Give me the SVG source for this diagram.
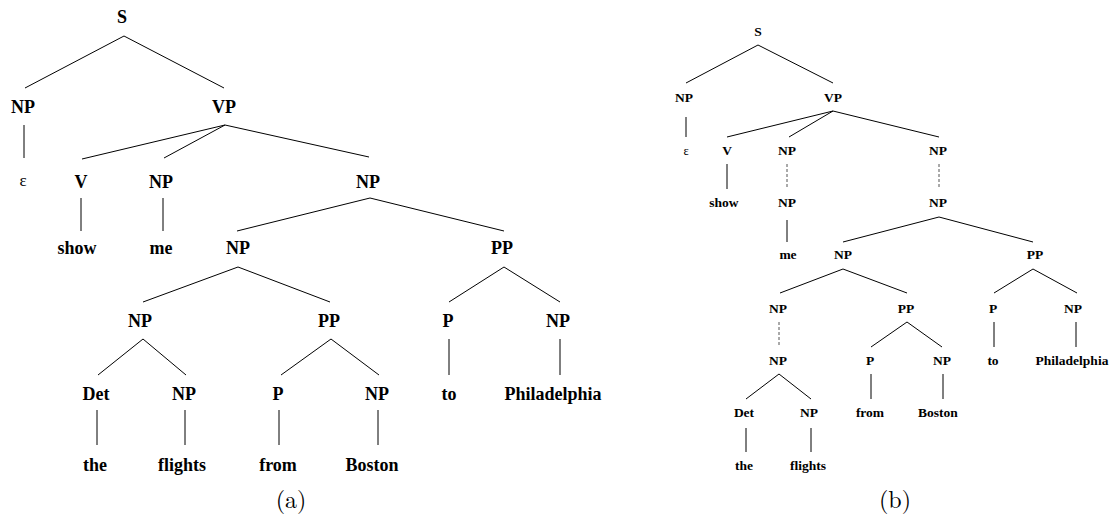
<svg xmlns="http://www.w3.org/2000/svg" width="1117" height="522" viewBox="0 0 1117 522">
<style>
.a{font-family:"Liberation Serif","Times New Roman",serif;font-weight:bold;font-size:18px;text-anchor:middle;fill:#000}
.b{font-family:"Liberation Serif","Times New Roman",serif;font-weight:bold;font-size:13.5px;text-anchor:middle;fill:#000}
.ea{font-family:"Liberation Serif","Times New Roman",serif;font-size:17px;text-anchor:middle;fill:#000}
.eb{font-family:"Liberation Serif","Times New Roman",serif;font-size:12.5px;text-anchor:middle;fill:#000}
.cap{font-family:"Latin Modern Roman","Liberation Serif",serif;font-size:24px;text-anchor:middle;fill:#000}
.l{stroke:#000;stroke-width:1;fill:none}
.d{stroke:#555;stroke-width:1;stroke-dasharray:3 2;fill:none}
</style>
<rect width="1117" height="522" fill="#fff"/>
<g id="connectors">
<g id="conn-a">
<line class="l" x1="124" y1="36" x2="25" y2="88"/>
<line class="l" x1="124" y1="36" x2="224" y2="88"/>
<line class="l" x1="24" y1="125" x2="24" y2="158"/>
<line class="l" x1="225" y1="125" x2="82" y2="159"/>
<line class="l" x1="225" y1="125" x2="164" y2="158"/>
<line class="l" x1="225" y1="125" x2="369" y2="157"/>
<line class="l" x1="81" y1="198" x2="81" y2="231"/>
<line class="l" x1="163" y1="198" x2="163" y2="231"/>
<line class="l" x1="370" y1="198" x2="237" y2="231"/>
<line class="l" x1="370" y1="198" x2="504" y2="231"/>
<line class="l" x1="238" y1="267" x2="143" y2="302"/>
<line class="l" x1="238" y1="267" x2="330" y2="302"/>
<line class="l" x1="504" y1="267" x2="449" y2="302"/>
<line class="l" x1="504" y1="267" x2="560" y2="302"/>
<line class="l" x1="143" y1="339" x2="98" y2="375"/>
<line class="l" x1="143" y1="339" x2="186" y2="375"/>
<line class="l" x1="331" y1="339" x2="281" y2="375"/>
<line class="l" x1="331" y1="339" x2="379" y2="375"/>
<line class="l" x1="449" y1="339" x2="449" y2="375"/>
<line class="l" x1="560" y1="339" x2="560" y2="375"/>
<line class="l" x1="97" y1="410" x2="97" y2="445"/>
<line class="l" x1="185" y1="410" x2="185" y2="445"/>
<line class="l" x1="279" y1="410" x2="279" y2="445"/>
<line class="l" x1="378" y1="410" x2="378" y2="445"/>
</g>
<g id="conn-b">
<line class="l" x1="758" y1="45" x2="686" y2="83"/>
<line class="l" x1="758" y1="45" x2="833" y2="83"/>
<line class="l" x1="686" y1="117" x2="686" y2="137"/>
<line class="l" x1="833" y1="111" x2="727" y2="137"/>
<line class="l" x1="833" y1="111" x2="789" y2="137"/>
<line class="l" x1="833" y1="111" x2="939" y2="137"/>
<line class="l" x1="727" y1="164" x2="727" y2="189"/>
<line class="d" x1="787" y1="164" x2="787" y2="189"/>
<line class="d" x1="939" y1="164" x2="939" y2="189"/>
<line class="l" x1="787" y1="220" x2="787" y2="242"/>
<line class="l" x1="939" y1="217" x2="843" y2="242"/>
<line class="l" x1="939" y1="217" x2="1033" y2="242"/>
<line class="l" x1="843" y1="269" x2="780" y2="293"/>
<line class="l" x1="843" y1="269" x2="907" y2="293"/>
<line class="l" x1="1033" y1="269" x2="994" y2="293"/>
<line class="l" x1="1033" y1="269" x2="1077" y2="293"/>
<line class="d" x1="779" y1="322" x2="779" y2="347"/>
<line class="l" x1="907" y1="322" x2="871" y2="347"/>
<line class="l" x1="907" y1="322" x2="942" y2="347"/>
<line class="l" x1="994" y1="322" x2="994" y2="347"/>
<line class="l" x1="1076" y1="322" x2="1076" y2="347"/>
<line class="l" x1="779" y1="374" x2="746" y2="399"/>
<line class="l" x1="779" y1="374" x2="811" y2="399"/>
<line class="l" x1="871" y1="374" x2="871" y2="399"/>
<line class="l" x1="943" y1="374" x2="943" y2="399"/>
<line class="l" x1="746" y1="428" x2="746" y2="452"/>
<line class="l" x1="811" y1="428" x2="811" y2="452"/>
</g>
</g>
<g id="tree-a">
<g id="a-S"><text class="a" x="122" y="23">S</text></g>
<g id="a-NP1"><text class="a" x="23" y="113">NP</text></g>
<g id="a-VP"><text class="a" x="224" y="113">VP</text></g>
<g id="a-eps"><text class="ea" x="23" y="186">ε</text></g>
<g id="a-V"><text class="a" x="81" y="188">V</text></g>
<g id="a-NP2"><text class="a" x="161" y="188">NP</text></g>
<g id="a-NP3"><text class="a" x="368" y="188">NP</text></g>
<g id="a-show"><text class="a" x="77" y="254">show</text></g>
<g id="a-me"><text class="a" x="161" y="254">me</text></g>
<g id="a-NP4"><text class="a" x="238" y="254">NP</text></g>
<g id="a-PP1"><text class="a" x="502" y="254">PP</text></g>
<g id="a-NP5"><text class="a" x="140" y="327">NP</text></g>
<g id="a-PP2"><text class="a" x="329" y="327">PP</text></g>
<g id="a-P1"><text class="a" x="448" y="327">P</text></g>
<g id="a-NP6"><text class="a" x="558" y="327">NP</text></g>
<g id="a-Det"><text class="a" x="96" y="400">Det</text></g>
<g id="a-NP7"><text class="a" x="184" y="400">NP</text></g>
<g id="a-P2"><text class="a" x="278" y="400">P</text></g>
<g id="a-NP8"><text class="a" x="377" y="400">NP</text></g>
<g id="a-to"><text class="a" x="449" y="400">to</text></g>
<g id="a-Phil"><text class="a" x="553" y="400">Philadelphia</text></g>
<g id="a-the"><text class="a" x="95" y="471">the</text></g>
<g id="a-flights"><text class="a" x="182" y="471">flights</text></g>
<g id="a-from"><text class="a" x="278" y="471">from</text></g>
<g id="a-Boston"><text class="a" x="372" y="471">Boston</text></g>
<g id="a-cap"><text class="cap" x="291" y="508">(a)</text></g>
</g>
<g id="tree-b">
<g id="b-S"><text class="b" x="758" y="36">S</text></g>
<g id="b-NP1"><text class="b" x="684" y="102">NP</text></g>
<g id="b-VP"><text class="b" x="833" y="102">VP</text></g>
<g id="b-eps"><text class="eb" x="686" y="155">ε</text></g>
<g id="b-V"><text class="b" x="727" y="155">V</text></g>
<g id="b-NP2"><text class="b" x="787" y="155">NP</text></g>
<g id="b-NP3"><text class="b" x="938" y="155">NP</text></g>
<g id="b-show"><text class="b" x="724" y="207">show</text></g>
<g id="b-NP4"><text class="b" x="787" y="207">NP</text></g>
<g id="b-NP5"><text class="b" x="938" y="207">NP</text></g>
<g id="b-me"><text class="b" x="788" y="259">me</text></g>
<g id="b-NP6"><text class="b" x="843" y="259">NP</text></g>
<g id="b-PP1"><text class="b" x="1035" y="259">PP</text></g>
<g id="b-NP7"><text class="b" x="778" y="313">NP</text></g>
<g id="b-PP2"><text class="b" x="906" y="313">PP</text></g>
<g id="b-P1"><text class="b" x="993" y="313">P</text></g>
<g id="b-NP8"><text class="b" x="1073" y="313">NP</text></g>
<g id="b-NP9"><text class="b" x="778" y="365">NP</text></g>
<g id="b-P2"><text class="b" x="870" y="365">P</text></g>
<g id="b-NP10"><text class="b" x="942" y="365">NP</text></g>
<g id="b-to"><text class="b" x="993" y="365">to</text></g>
<g id="b-Phil"><text class="b" x="1072" y="365">Philadelphia</text></g>
<g id="b-Det"><text class="b" x="744" y="417">Det</text></g>
<g id="b-NP11"><text class="b" x="809" y="417">NP</text></g>
<g id="b-from"><text class="b" x="870" y="417">from</text></g>
<g id="b-Boston"><text class="b" x="938" y="417">Boston</text></g>
<g id="b-the"><text class="b" x="744" y="470">the</text></g>
<g id="b-flights"><text class="b" x="808" y="470">flights</text></g>
<g id="b-cap"><text class="cap" x="895" y="508">(b)</text></g>
</g>
</svg>
